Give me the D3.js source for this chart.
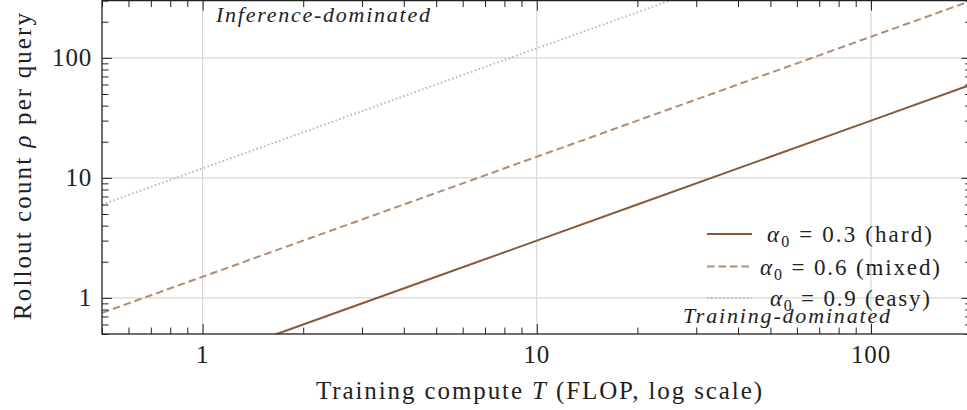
<!DOCTYPE html>
<html>
<head>
<meta charset="utf-8">
<script src="https://cdn.jsdelivr.net/npm/d3@7"></script>
<style>
  html, body { margin: 0; padding: 0; background: #fff; }
  svg { display: block; }
  text { font-family: "Liberation Serif", "Times New Roman", serif; fill: #222; }
</style>
</head>
<body>
<svg id="chart" width="967" height="410"></svg>
<script>
// ---------- data ----------
const trainingCompute = [0.5, 1, 2, 5, 10, 20, 50, 100, 200];
const rolloutHard  = [0.15, 0.3, 0.6, 1.5, 3, 6, 15, 30, 60];
const rolloutMixed = [0.75, 1.5, 3, 7.5, 15, 30, 75, 150, 300];
const rolloutEasy  = [6, 12, 24, 60, 120, 240, 600, 1200, 2400];
const seriesNames  = ["0.3 (hard)", "0.6 (mixed)", "0.9 (easy)"];
const xTickValues  = [1, 10, 100];
const yTickValues  = [1, 10, 100];
const xDomain = [0.5, 200];
const yDomain = [0.5, 300];

(function () {
// ---------- layout ----------
const svg = d3.select("#chart");
const pL = 102, pR = 971.6, pT = 0.6, pB = 334;
const x = d3.scaleLog().domain(xDomain).range([pL, pR]);
const y = d3.scaleLog().domain(yDomain).range([pB, pT]);

const colors = ["#8b5a36", "#b28d72", "#d0b59f"];
const dashes = [null, "7.5 4", "1.6 2.4"];

// grid
const g = svg.append("g");
g.selectAll(".gx").data(xTickValues).join("line")
  .attr("x1", d => x(d)).attr("x2", d => x(d))
  .attr("y1", pT).attr("y2", pB)
  .attr("stroke", "#d6d6d6").attr("stroke-width", 1.2);
g.selectAll(".gy").data(yTickValues).join("line")
  .attr("y1", d => y(d)).attr("y2", d => y(d))
  .attr("x1", pL).attr("x2", pR)
  .attr("stroke", "#d6d6d6").attr("stroke-width", 1.2);

// clip
svg.append("clipPath").attr("id", "clip").append("rect")
  .attr("x", pL).attr("y", pT).attr("width", pR - pL).attr("height", pB - pT);

const line = d3.line().x((d, i) => x(trainingCompute[i])).y(d => y(d));
const allSeries = [rolloutHard, rolloutMixed, rolloutEasy];
const lines = svg.append("g").attr("clip-path", "url(#clip)");
allSeries.forEach((s, k) => {
  lines.append("path").datum(s)
    .attr("d", line)
    .attr("fill", "none")
    .attr("stroke", colors[k])
    .attr("stroke-width", 2)
    .attr("stroke-dasharray", dashes[k]);
});

// minor tick values
const minorX = [], minorY = [];
[0.1, 1, 10, 100].forEach(dec => {
  for (let m = 2; m <= 9; m++) {
    const v = dec * m;
    if (v >= xDomain[0] && v <= xDomain[1]) minorX.push(v);
    if (v >= yDomain[0] && v <= yDomain[1]) minorY.push(v);
  }
});

const axisColor = "#222";
const majorLen = 10, minorLen = 6.5;
function ticks(axisGen, transform, tickVals, len) {
  const a = svg.append("g").attr("transform", transform)
    .call(axisGen.tickValues(tickVals).tickSize(len).tickFormat(""));
  a.select(".domain").remove();
  a.selectAll("line").attr("stroke", axisColor).attr("stroke-width", 1);
  return a;
}
ticks(d3.axisTop(x), `translate(0,${pB})`, xTickValues, majorLen);
ticks(d3.axisTop(x), `translate(0,${pB})`, minorX, minorLen);
ticks(d3.axisBottom(x), `translate(0,${pT})`, xTickValues, majorLen);
ticks(d3.axisBottom(x), `translate(0,${pT})`, minorX, minorLen);
ticks(d3.axisRight(y), `translate(${pL},0)`, yTickValues, majorLen);
ticks(d3.axisRight(y), `translate(${pL},0)`, minorY, minorLen);
ticks(d3.axisLeft(y), `translate(${pR},0)`, yTickValues, majorLen);
ticks(d3.axisLeft(y), `translate(${pR},0)`, minorY, minorLen);

// spines
svg.append("rect").attr("x", pL).attr("y", pT)
  .attr("width", pR - pL).attr("height", pB - pT)
  .attr("fill", "none").attr("stroke", axisColor).attr("stroke-width", 1.3);

// tick labels
svg.selectAll(".xl").data(xTickValues).join("text")
  .attr("x", d => x(d)).attr("y", 363)
  .attr("text-anchor", "middle").attr("font-size", 25)
  .attr("letter-spacing", 0.8)
  .text(d => d3.format("d")(d));
svg.selectAll(".yl").data(yTickValues).join("text")
  .attr("x", 92).attr("y", d => y(d) + 8.5)
  .attr("text-anchor", "end").attr("font-size", 25)
  .attr("letter-spacing", 0.8)
  .text(d => d3.format("d")(d));

// axis labels
const xl = svg.append("text").attr("x", 316).attr("y", 399)
  .attr("font-size", 25).attr("textLength", 446).attr("lengthAdjust", "spacing");
xl.append("tspan").text("Training compute ");
xl.append("tspan").attr("font-style", "italic").text("T");
xl.append("tspan").text(" (FLOP, log scale)");

const yl = svg.append("text").attr("transform", "translate(31,320) rotate(-90)")
  .attr("font-size", 25).attr("textLength", 307).attr("lengthAdjust", "spacing");
yl.append("tspan").text("Rollout count ");
yl.append("tspan").attr("font-style", "italic").text("ρ");
yl.append("tspan").text(" per query");

// annotations
svg.append("text").attr("x", 216).attr("y", 22).attr("font-size", 22)
  .attr("font-style", "italic").attr("textLength", 214).attr("lengthAdjust", "spacing")
  .text("Inference-dominated");
svg.append("text").attr("x", 683).attr("y", 323).attr("font-size", 22)
  .attr("font-style", "italic").attr("textLength", 207).attr("lengthAdjust", "spacing")
  .text("Training-dominated");

// legend
const legRows = [234, 266.5, 298];
const legStart = [767, 760, 770];
const legWidth = [165, 180, 160];
seriesNames.forEach((name, k) => {
  const cy = legRows[k];
  svg.append("line").attr("x1", 707).attr("x2", 752).attr("y1", cy).attr("y2", cy)
    .attr("stroke", colors[k]).attr("stroke-width", 2)
    .attr("stroke-dasharray", dashes[k]);
  const t = svg.append("text").attr("x", legStart[k]).attr("y", cy + 8)
    .attr("font-size", 23).attr("textLength", legWidth[k]).attr("lengthAdjust", "spacing");
  t.append("tspan").attr("font-style", "italic").text("α");
  t.append("tspan").attr("font-size", 16).attr("dy", 5).text("0");
  t.append("tspan").attr("dy", -5).text(" = " + name);
});
})();
</script>
</body>
</html>
